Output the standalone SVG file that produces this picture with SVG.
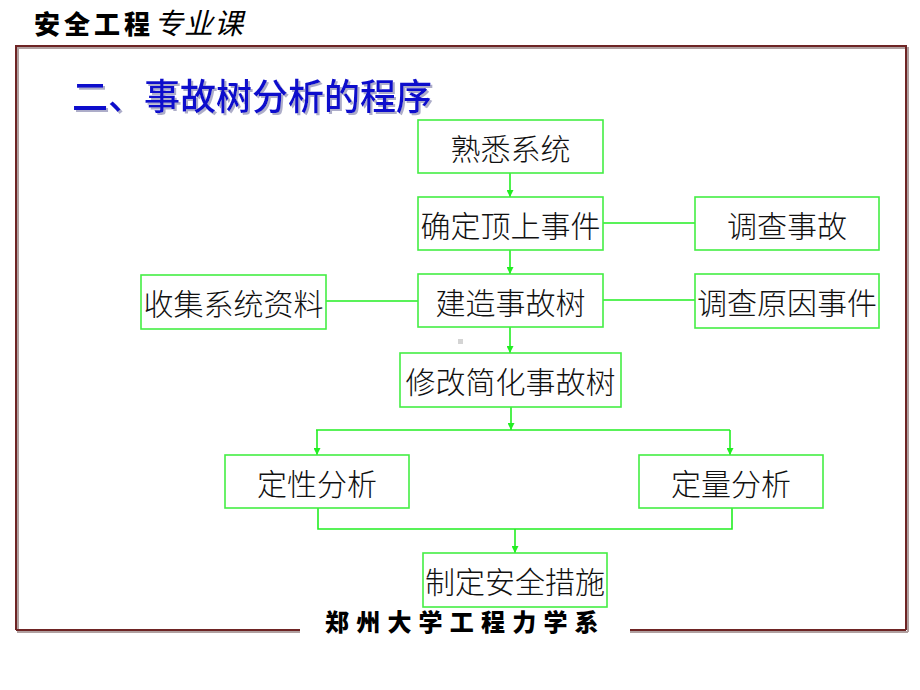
<svg xmlns="http://www.w3.org/2000/svg" width="920" height="690" viewBox="0 0 920 690">
<defs>
<marker id="arr" viewBox="0 0 10 10" refX="10" refY="5" markerWidth="7" markerHeight="7" markerUnits="userSpaceOnUse" orient="auto">
<path d="M0,0 L10,5 L0,10 z" fill="#22ee22"/>
</marker>
<filter id="sh" x="-5%" y="-20%" width="110%" height="140%">
<feDropShadow dx="2" dy="2" stdDeviation="0.6" flood-color="#9999bb" flood-opacity="0.8"/>
</filter>
</defs>
<style>
.box{fill:#ffffff;stroke:#44ee44;stroke-width:1.6}
.lbl{font-family:"Noto Sans CJK SC","Noto Sans",sans-serif;font-size:30px;font-weight:300;fill:#111;text-anchor:middle;dominant-baseline:central}
.con{fill:none;stroke:#22ee22;stroke-width:1.6}
.frame{fill:none;stroke:#6e2424;stroke-width:2}
.frameSh{fill:none;stroke:#b0a0a0;stroke-width:2}
</style>
<rect width="920" height="690" fill="#ffffff"/>
<!-- header -->
<text x="34" y="34" font-family="'Noto Sans CJK SC',sans-serif" font-size="26" font-weight="900" fill="#000" letter-spacing="4">安全工程<tspan font-weight="400" font-style="italic" font-size="29" letter-spacing="1">专业课</tspan></text>
<!-- frame -->
<g id="frame">
<path class="frameSh" d="M18,633 L18,48 L908,48 L908,632"/>
<path class="frameSh" d="M18,632 L300,632 M630,632 L908,632"/>
<path class="frame" d="M16,630 L16,46 L906,46 L906,630"/>
<path class="frame" d="M16,630 L300,630 M630,630 L906,630"/>
</g>
<text x="325" y="631" font-family="'Noto Sans CJK SC',sans-serif" font-size="24" font-weight="900" fill="#000" letter-spacing="7.2">郑州大学工程力学系</text>
<!-- title -->
<text x="72" y="110" font-family="'Noto Sans CJK SC',sans-serif" font-size="36" font-weight="500" fill="#1010cc" filter="url(#sh)">二、事故树分析的程序</text>
<rect x="458" y="339" width="5" height="5" fill="#d4d4d4"/>
<!-- connectors -->
<g id="connectors">
<path class="con" d="M510,173 L510,197" marker-end="url(#arr)"/>
<path class="con" d="M510,250 L510,274" marker-end="url(#arr)"/>
<path class="con" d="M510,327 L510,353" marker-end="url(#arr)"/>
<path class="con" d="M511,407 L511,430" marker-end="url(#arr)"/>
<path class="con" d="M603,223 L695,223"/>
<path class="con" d="M326,301 L418,301"/>
<path class="con" d="M603,300 L695,300"/>
<path class="con" d="M316,430 L730,430"/>
<path class="con" d="M317,430 L317,455" marker-end="url(#arr)"/>
<path class="con" d="M730,430 L730,455" marker-end="url(#arr)"/>
<path class="con" d="M318,508 L318,529 L732,529 L732,508"/>
<path class="con" d="M515,529 L515,553" marker-end="url(#arr)"/>
</g>
<!-- nodes -->
<g id="n1"><rect class="box" x="418" y="120" width="185" height="53"/><text class="lbl" x="510.5" y="147">熟悉系统</text></g>
<g id="n2"><rect class="box" x="418" y="197" width="185" height="53"/><text class="lbl" x="510.5" y="224">确定顶上事件</text></g>
<g id="n3"><rect class="box" x="695" y="197" width="184" height="53"/><text class="lbl" x="787" y="224">调查事故</text></g>
<g id="n4"><rect class="box" x="141" y="275" width="185" height="54"/><text class="lbl" x="233.5" y="302">收集系统资料</text></g>
<g id="n5"><rect class="box" x="418" y="274" width="185" height="53"/><text class="lbl" x="510.5" y="301">建造事故树</text></g>
<g id="n6"><rect class="box" x="695" y="274" width="184" height="54"/><text class="lbl" x="787" y="301">调查原因事件</text></g>
<g id="n7"><rect class="box" x="400" y="353" width="221" height="54"/><text class="lbl" x="510.5" y="380">修改简化事故树</text></g>
<g id="n8"><rect class="box" x="225" y="455" width="184" height="53"/><text class="lbl" x="317" y="482">定性分析</text></g>
<g id="n9"><rect class="box" x="639" y="455" width="184" height="53"/><text class="lbl" x="731" y="482">定量分析</text></g>
<g id="n10"><rect class="box" x="423" y="553" width="184" height="54"/><text class="lbl" x="515" y="580">制定安全措施</text></g>
</svg>
